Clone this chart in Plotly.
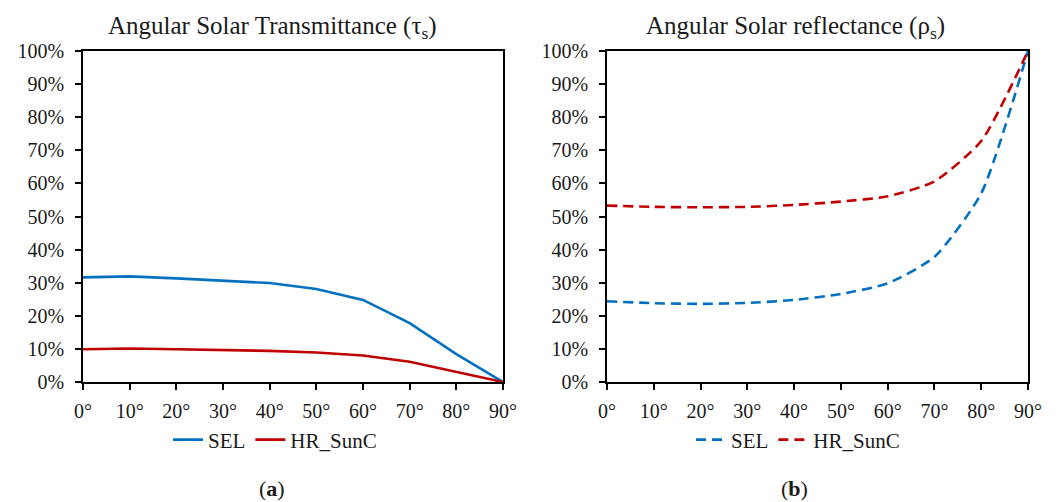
import plotly.graph_objects as go

# Incidence angles (degrees)
angles = [0, 10, 20, 30, 40, 50, 60, 70, 80, 90]
angle_labels = [f"{a}°" for a in angles]

# Angular solar transmittance
tau_sel = [0.316, 0.319, 0.313, 0.307, 0.299, 0.281, 0.248, 0.178, 0.084, 0.0]
tau_hr = [0.099, 0.101, 0.099, 0.097, 0.094, 0.089, 0.080, 0.061, 0.031, 0.0]

# Angular solar reflectance
rho_sel = [0.244, 0.238, 0.236, 0.239, 0.248, 0.266, 0.298, 0.378, 0.570, 1.0]
rho_hr = [0.533, 0.529, 0.528, 0.529, 0.535, 0.545, 0.561, 0.606, 0.728, 1.0]

series_names = ["SEL", "HR_SunC"]
y_ticks = [i / 10 for i in range(11)]
y_labels = [f"{i * 10}%" for i in range(11)]

BLUE = "#0070C0"
RED = "#C00000"
FONT = "Liberation Serif"
TXT = "#1a1a1a"

fig = go.Figure()

# (a) transmittance, solid lines
fig.add_trace(go.Scatter(x=angles, y=tau_sel, name=series_names[0], mode="lines",
                         line=dict(color=BLUE, width=2.6), xaxis="x", yaxis="y",
                         legend="legend"))
fig.add_trace(go.Scatter(x=angles, y=tau_hr, name=series_names[1], mode="lines",
                         line=dict(color=RED, width=2.6), xaxis="x", yaxis="y",
                         legend="legend"))

# (b) reflectance, smoothed dashed lines
fig.add_trace(go.Scatter(x=angles, y=rho_sel, name=series_names[0], mode="lines",
                         line=dict(color=BLUE, width=2.6, dash="10px,6px",
                                   shape="spline", smoothing=0.6),
                         xaxis="x2", yaxis="y2", legend="legend2"))
fig.add_trace(go.Scatter(x=angles, y=rho_hr, name=series_names[1], mode="lines",
                         line=dict(color=RED, width=2.6, dash="10px,6px",
                                   shape="spline", smoothing=0.6),
                         xaxis="x2", yaxis="y2", legend="legend2"))

W, H = 1062, 502


def px_x(v):
    return v / W


def px_y(v):
    return 1 - v / H


xaxis_style = dict(range=[0, 90], tickvals=angles, ticktext=angle_labels,
                   showline=True, linecolor="black", linewidth=1.5, mirror=True,
                   ticks="outside", ticklen=6, tickcolor="black", tickwidth=1.5,
                   ticklabelstandoff=4,
                   showgrid=False, zeroline=False, fixedrange=True, automargin=False,
                   tickfont=dict(family=FONT, size=20, color=TXT))
yaxis_style = dict(range=[0, 1], tickvals=y_ticks, ticktext=y_labels,
                   showline=True, linecolor="black", linewidth=1.5, mirror=True,
                   ticks="outside", ticklen=6, tickcolor="black", tickwidth=1.5,
                   ticklabelstandoff=7,
                   showgrid=False, zeroline=False, fixedrange=True, automargin=False,
                   tickfont=dict(family=FONT, size=20, color=TXT))

legend_style = dict(orientation="h", xanchor="center", yanchor="middle",
                    font=dict(family=FONT, size=21, color=TXT),
                    bgcolor="rgba(0,0,0,0)", itemwidth=30, tracegroupgap=0)

fig.update_layout(
    template="none",
    width=W, height=H,
    margin=dict(l=0, r=0, t=0, b=0, autoexpand=False),
    paper_bgcolor="white", plot_bgcolor="white",
    xaxis=dict(domain=[px_x(83), px_x(503)], anchor="y", **xaxis_style),
    yaxis=dict(domain=[px_y(382), px_y(51)], anchor="x", **yaxis_style),
    xaxis2=dict(domain=[px_x(607), px_x(1028)], anchor="y2", **xaxis_style),
    yaxis2=dict(domain=[px_y(382), px_y(51)], anchor="x2", **yaxis_style),
    legend=dict(x=px_x(275), y=px_y(440), **legend_style),
    legend2=dict(x=px_x(798), y=px_y(440), **legend_style),
    annotations=[
        dict(text="Angular Solar Transmittance (τ<sub>s</sub>)", x=px_x(272), y=px_y(28),
             xref="paper", yref="paper", showarrow=False, xanchor="center", yanchor="middle",
             font=dict(family=FONT, size=25, color=TXT)),
        dict(text="Angular Solar reflectance (ρ<sub>s</sub>)", x=px_x(795), y=px_y(28),
             xref="paper", yref="paper", showarrow=False, xanchor="center", yanchor="middle",
             font=dict(family=FONT, size=25, color=TXT)),
        dict(text="(<b>a</b>)", x=px_x(272), y=px_y(488),
             xref="paper", yref="paper", showarrow=False, xanchor="center", yanchor="middle",
             font=dict(family=FONT, size=22, color=TXT)),
        dict(text="(<b>b</b>)", x=px_x(794), y=px_y(488),
             xref="paper", yref="paper", showarrow=False, xanchor="center", yanchor="middle",
             font=dict(family=FONT, size=22, color=TXT)),
    ],
)

fig.write_html("out.html")
